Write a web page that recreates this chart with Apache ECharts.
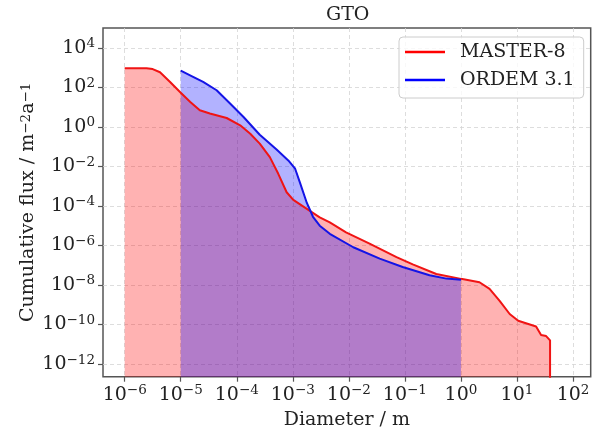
<!DOCTYPE html>
<html>
<head>
<meta charset="utf-8">
<script src="https://cdn.jsdelivr.net/npm/echarts@6/dist/echarts.min.js"></script>
<style>
  html, body { margin: 0; padding: 0; background: #fff; }
  #chart { width: 601px; height: 432px; }
</style>
</head>
<body>
<div id="chart"></div>
<script>
var FONT = 'DejaVu Serif';

// MASTER-8 curve: diameter (m) / cumulative flux (m^-2 a^-1)
var masterD = [1e-6, 1.78e-6, 2.45e-6, 3.16e-6, 4.27e-6, 6.46e-6, 9.8e-6, 1.48e-5, 2.19e-5, 3.31e-5,
    6.6e-5, 1.15e-4, 1.74e-4, 2.57e-4, 3.89e-4, 5.5e-4, 7.76e-4, 1.02e-3, 1.78e-3, 3.02e-3,
    4.57e-3, 8.9e-3, 0.0234, 0.0708, 0.138, 0.363, 1, 2.14, 3.24, 4.9,
    7.4, 10.5, 21.9, 26.9, 33.1, 38.9, 38.9];
var masterFlux = [933, 933, 912, 832, 575, 186, 56, 18.2, 6.9, 4.7,
    2.8, 1.2, 0.45, 0.141, 0.0295, 4.2e-3, 4.9e-4, 2.0e-4, 7.1e-5, 2.63e-5,
    1.48e-5, 4.6e-6, 1.23e-6, 2.57e-7, 1.1e-7, 3.6e-8, 2.04e-8, 1.38e-8, 6.3e-9, 1.58e-9,
    3.4e-10, 1.55e-10, 7.9e-11, 2.95e-11, 2.6e-11, 1.58e-11, 1e-14];

// ORDEM 3.1 curve
var ordemD = [1e-5, 1.66e-5, 2.51e-5, 4.37e-5, 7.59e-5, 1.32e-4, 2.57e-4, 5.13e-4, 8.3e-4, 1.1e-3,
    1.35e-3, 1.78e-3, 2.29e-3, 3.02e-3, 4.57e-3, 0.012, 0.0355, 0.0912, 0.275, 0.55, 1];
var ordemFlux = [692, 339, 186, 70.8, 15.1, 3.16, 0.40, 0.071, 0.020, 7.6e-3,
    1.41e-3, 1.41e-4, 2.82e-5, 1e-5, 3.9e-6, 8.1e-7, 2.14e-7, 8.1e-8, 3.1e-8, 2.1e-8, 1.86e-8];

var xTicks = [1e-6, 1e-5, 1e-4, 1e-3, 1e-2, 1e-1, 1, 1e1, 1e2];
var yTicks = [1e-12, 1e-10, 1e-8, 1e-6, 1e-4, 1e-2, 1, 1e2, 1e4];

function pairs(xs, ys) {
    var out = [];
    for (var i = 0; i < xs.length; i++) {
        out.push([xs[i], ys[i]]);
    }
    return out;
}

// 10^n label with raised exponent
function powLabel(value) {
    var e = Math.round(Math.log(value) / Math.LN10);
    var s = e < 0 ? '\u2212' + (-e) : String(e);
    return '{b|10}{s|' + s + '}';
}

var labelRich = {
    b: { fontFamily: FONT, fontSize: 19, lineHeight: 22, color: '#222' },
    s: { fontFamily: FONT, fontSize: 13.5, lineHeight: 10, verticalAlign: 'top', color: '#222' }
};

var chart = echarts.init(document.getElementById('chart'), null, { renderer: 'canvas' });

var option = {
    animation: false,
    backgroundColor: '#fff',
    title: {
        text: 'GTO',
        left: 326,
        top: 6,
        padding: 0,
        textStyle: { fontFamily: FONT, fontSize: 19, fontWeight: 'normal', color: '#222' }
    },
    legend: {
        orient: 'vertical',
        left: 399,
        top: 37,
        padding: [4, 9, 7, 6],
        itemWidth: 40,
        itemHeight: 2.5,
        itemGap: 6,
        icon: 'rect',
        backgroundColor: 'rgba(255,255,255,0.8)',
        borderColor: '#cccccc',
        borderWidth: 1,
        borderRadius: 4,
        textStyle: { fontFamily: FONT, fontSize: 19, lineHeight: 22, color: '#222', padding: [0, 0, 0, 10] },
        data: ['MASTER-8', 'ORDEM 3.1']
    },
    grid: {
        left: 103,
        right: 10.3,
        top: 28,
        bottom: 55.3,
        outerBoundsMode: 'none',
        containLabel: false,
        show: true,
        borderColor: '#555',
        borderWidth: 1.5,
        backgroundColor: 'transparent'
    },
    xAxis: {
        type: 'log',
        logBase: 10,
        min: Math.pow(10, -6.387),
        max: Math.pow(10, 2.315),
        name: 'Diameter / m',
        nameLocation: 'middle',
        nameGap: 34,
        nameMoveOverlap: false,
        nameTextStyle: { fontFamily: FONT, fontSize: 19, color: '#222' },
        axisLine: { show: false },
        axisTick: { show: true, inside: false, length: 5, customValues: xTicks, lineStyle: { color: '#555', width: 1.2 } },
        axisLabel: { show: true, margin: 7, customValues: xTicks, formatter: powLabel, rich: labelRich },
        splitLine: { show: true, lineStyle: { color: '#d4d4d4', type: [4, 3], width: 0.8 } },
        minorTick: { show: false },
        minorSplitLine: { show: false }
    },
    yAxis: {
        type: 'log',
        logBase: 10,
        min: Math.pow(10, -12.64),
        max: Math.pow(10, 5.0),
        name: 'Cumulative flux / m{s|\u22122}a{s|\u22121}',
        nameLocation: 'middle',
        nameRotate: 90,
        nameGap: 65,
        nameMoveOverlap: false,
        nameTextStyle: {
            fontFamily: FONT, fontSize: 19, color: '#222',
            rich: {
                s: { fontFamily: FONT, fontSize: 13.5, lineHeight: 10, verticalAlign: 'top', color: '#222' }
            }
        },
        axisLine: { show: false },
        axisTick: { show: true, inside: false, length: 5, customValues: yTicks, lineStyle: { color: '#555', width: 1.2 } },
        axisLabel: { show: true, margin: 8, customValues: yTicks, formatter: powLabel, rich: labelRich },
        splitLine: { show: true, lineStyle: { color: '#d4d4d4', type: [4, 3], width: 0.8 } },
        minorTick: { show: false },
        minorSplitLine: { show: false }
    },
    series: [
        {
            name: 'MASTER-8',
            type: 'line',
            data: pairs(masterD, masterFlux),
            symbol: 'none',
            showSymbol: false,
            color: '#ff0000',
            lineStyle: { color: '#f01414', width: 2 },
            areaStyle: { color: '#ff0000', opacity: 0.3 },
            clip: true
        },
        {
            name: 'ORDEM 3.1',
            type: 'line',
            data: pairs(ordemD, ordemFlux),
            symbol: 'none',
            showSymbol: false,
            color: '#0000ff',
            lineStyle: { color: '#1414e6', width: 2 },
            areaStyle: { color: '#0000ff', opacity: 0.3 },
            clip: true
        }
    ]
};

chart.setOption(option);
</script>
</body>
</html>
